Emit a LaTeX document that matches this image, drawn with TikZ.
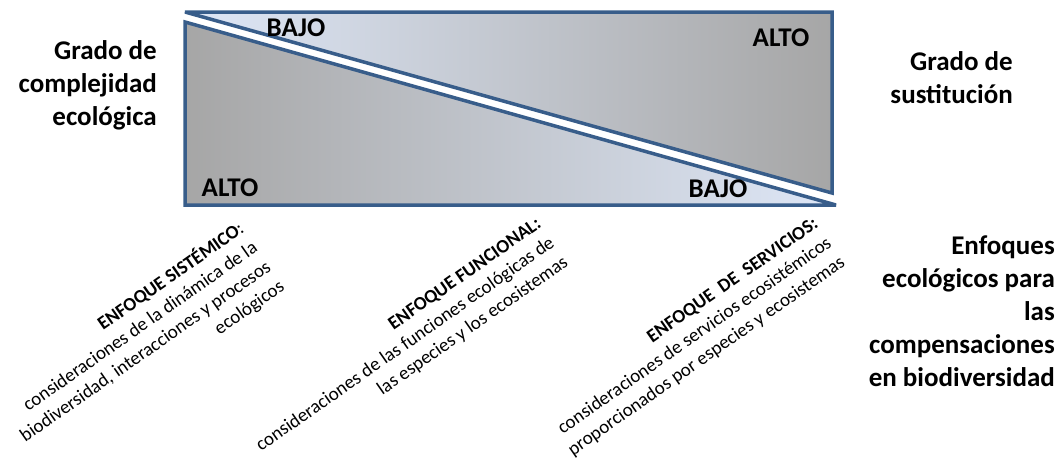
\documentclass[tikz,border=0pt]{standalone}
\usepackage{fontspec}
\setmainfont{Carlito}
\definecolor{frameblue}{RGB}{56,93,138}
\definecolor{panelgray}{RGB}{166,166,166}
\definecolor{panelmid}{RGB}{196,211,238}
\definecolor{panellight}{RGB}{222,231,247}
\begin{document}
\begin{tikzpicture}[x=1pt,y=1pt,
  edge/.style={draw=frameblue, line width=3.5pt, line join=miter, miter limit=2},
  level/.style={font=\fontsize{27}{33}\selectfont\bfseries, inner sep=0pt},
  axislabel/.style={font=\fontsize{27}{33}\selectfont\bfseries, align=right, inner sep=0pt, anchor=north east},
  approach/.style={font=\fontsize{19}{23.5}\selectfont, align=right, rotate=35, inner sep=0pt, anchor=north east}]
\useasboundingbox (0,0) rectangle (1063,-458);

% corners of the two triangles
\coordinate (ua) at (185,-12);
\coordinate (ub) at (832,-12);
\coordinate (uc) at (832,-193);
\coordinate (la) at (185,-22);
\coordinate (lb) at (185,-205);
\coordinate (lc) at (836,-205);

% lower-left triangle: complexity
\shade[left color=panelgray, middle color=panelmid, right color=panellight]
  (la) -- (lb) -- (lc) -- cycle;
\draw[edge] (la) -- (lb) -- (lc) -- cycle;

% upper-right triangle: substitution
\shade[left color=panellight, middle color=panelmid, right color=panelgray]
  (ua) -- (ub) -- (uc) -- cycle;
\draw[edge] (ua) -- (ub) -- (uc) -- cycle;

% level labels inside the triangles
\node[level] (bajoTop) at (296,-28) {BAJO};
\node[level] (altoTop) at (781,-38) {ALTO};
\node[level] (altoBot) at (230,-188) {ALTO};
\node[level] (bajoBot) at (718,-189) {BAJO};

% axis labels
\node[axislabel] (complejidad) at (157,-40) {Grado de\\complejidad\\ecológica};
\node[axislabel] (sustitucion) at (1013,-51) {Grado de\\sustitución};
\node[axislabel] (enfoques) at (1055,-236)
  {Enfoques\\ecológicos para\\las\\compensaciones\\en biodiversidad};

% the three approaches, set along the slope
\node[approach] (sistemico) at (236,-218)
  {\textbf{ENFOQUE SISTÉMICO}:\\consideraciones de la dinámica de la\\biodiversidad, interacciones y procesos\\ecológicos};
\node[approach] (funcional) at (535,-216)
  {\textbf{ENFOQUE FUNCIONAL:}\\consideraciones de las funciones ecológicas de\\las especies y los ecosistemas};
\node[approach] (servicios) at (812,-216)
  {\textbf{ENFOQUE\ \ DE\ \ SERVICIOS:}\\consideraciones de servicios ecosistémicos\\proporcionados por especies y ecosistemas};
\end{tikzpicture}
\end{document}
